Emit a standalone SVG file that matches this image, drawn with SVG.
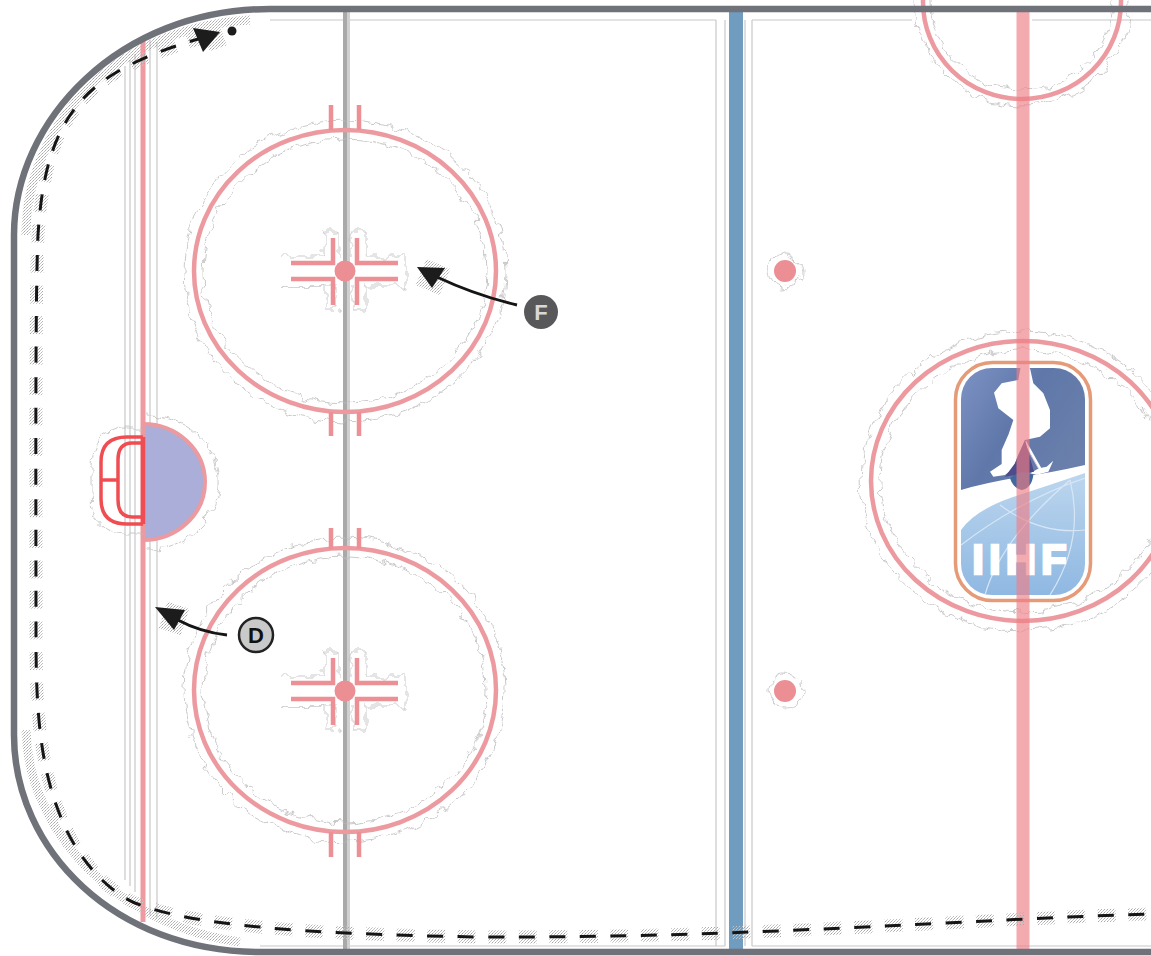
<svg xmlns="http://www.w3.org/2000/svg" xmlns:xlink="http://www.w3.org/1999/xlink" width="1151" height="956" viewBox="0 0 1151 956">
<style>
.thin{fill:none;stroke:#c8c8c8;stroke-width:1.2}
.halo{fill:none;stroke:#bdbdbd;stroke-width:.8;filter:url(#wobble)}
.red{fill:none;stroke:#ec9a9f;stroke-width:4.5}
.hash{fill:none;stroke:#ec9096;stroke-width:4.5}
.spot{fill:#ec8f95}
.goal{fill:none;stroke:#ef4d52;stroke-width:3.5}
.arrow{fill:none;stroke:#151515;stroke-width:3}
.head{fill:#1c1c1c}
.stip{fill:none;stroke:url(#stipple)}
.lbl{font-family:"Liberation Sans",Arial,sans-serif;font-weight:700;text-anchor:middle}
</style>
<defs>
<pattern id="stipple" width="3" height="3" patternUnits="userSpaceOnUse"><rect width="1" height="1" fill="#a8a8a8"/><rect x="2" y="1" width="1" height="1" fill="#bcbcbc"/><rect x="1" y="2" width="1" height="1" fill="#c8c8c8"/></pattern>
<filter id="wobble" x="-15%" y="-15%" width="130%" height="130%"><feTurbulence type="fractalNoise" baseFrequency="0.09" numOctaves="2" seed="4"/><feDisplacementMap in="SourceGraphic" scale="13" xChannelSelector="R" yChannelSelector="G"/></filter>
<linearGradient id="sky" x1="0" y1="0" x2="1" y2="0.6"><stop offset="0" stop-color="#7d92c4"/><stop offset="0.5" stop-color="#5f78a9"/><stop offset="1" stop-color="#6a7fab"/></linearGradient>
<linearGradient id="ice" x1="0" y1="0" x2="0" y2="1"><stop offset="0" stop-color="#bcd6ee"/><stop offset="1" stop-color="#8fb8e2"/></linearGradient>
<clipPath id="logoClip"><rect x="961" y="368" width="124" height="227" rx="31"/></clipPath>
<g id="dot-hash">
<path class="halo" d="M284 256H324V232H338V256M352 256V232H366V256H405V286H366V310H352V286M338 286V310H324V286H284Z"/>
<path class="hash" d="M291 263H333V238M291 279H333V305M398 263H357V238M398 279H357V305"/>
<circle class="spot" cx="345" cy="271" r="10.500"/>
</g>
</defs>
<rect width="1151" height="956" fill="#fff"/>

<g id="rink-guides">
<path class="thin" d="M125 66V880M130 60V886M135 54V892M150 40V915M157 42V918"/>
<path class="thin" d="M716 20V946M725 20V946M745 20V946M752 20V946"/>
<path class="thin" d="M270 20H716M752 20H912M1032 20H1151M260 946H725M752 946H1151"/>
<path class="stip" stroke-width="9" d="M26 235C26 130 110 28 250 20M26 730C28 830 115 925 240 942"/>
</g>

<g id="blue-line"><rect x="729" y="10" width="14" height="942" fill="#6f9cbf"/></g>
<g id="mid-line"><rect x="343" y="10" width="4" height="942" fill="#a9a9a9"/><rect x="347" y="10" width="3" height="942" fill="#d0d0d0"/></g>
<g id="goal-line"><rect x="140.500" y="38" width="5" height="884" fill="#ee9aa0"/></g>

<g id="circle-top-left">
<ellipse class="halo" cx="345" cy="271" rx="161" ry="151"/>
<ellipse class="halo" cx="345" cy="271" rx="142" ry="132"/>
<ellipse class="red" cx="345" cy="271" rx="151" ry="141"/>
<path class="hash" d="M331 105V130M359 105V130M331 412V436M359 412V436"/>
<use xlink:href="#dot-hash"/>
</g>
<g id="circle-bottom-left">
<ellipse class="halo" cx="345" cy="690" rx="161" ry="152"/>
<ellipse class="halo" cx="345" cy="690" rx="142" ry="133"/>
<ellipse class="red" cx="345" cy="690" rx="151" ry="142"/>
<path class="hash" d="M331 528V549M359 528V549M331 832V857M359 832V857"/>
<use xlink:href="#dot-hash" y="420"/>
</g>
<g id="spot-top"><circle class="halo" cx="785" cy="271" r="17"/><circle class="spot" cx="785" cy="271" r="11"/></g>
<g id="spot-bottom"><circle class="halo" cx="785" cy="691" r="17"/><circle class="spot" cx="785" cy="691" r="11"/></g>

<g id="crease">
<path class="halo" d="M146 414A70 66 0 0 1 146 550"/>
<path d="M143 424A62 58 0 0 1 143 540Z" fill="#aaaed8" stroke="#ec9a9f" stroke-width="4"/>
</g>
<g id="goal">
<path class="halo" d="M143 428H122Q92 432 92 465V495Q92 530 122 533H143"/>
<path class="goal" d="M143 437H127Q101 437 101 462V499Q101 524 127 524H143"/>
<path class="goal" d="M143 443H132Q118 443 118 460V500Q118 517 132 517H143"/>
<path class="goal" d="M101 480H118"/>
<path d="M143 437V524" stroke="#ef4d52" stroke-width="4.500" fill="none"/>
</g>

<g id="top-circle">
<ellipse class="halo" cx="1022" cy="2" rx="107" ry="104"/>
<ellipse class="halo" cx="1022" cy="2" rx="91" ry="88"/>
<ellipse class="red" cx="1022" cy="2" rx="99" ry="97" stroke="#eca6aa" stroke-width="5.500"/>
</g>
<g id="center-circle">
<ellipse class="halo" cx="1023" cy="481" rx="162" ry="150"/>
<ellipse class="halo" cx="1023" cy="481" rx="143" ry="131"/>
<ellipse class="red" cx="1023" cy="481" rx="152" ry="140" stroke="#eca6aa"/>
</g>

<g id="iihf-logo">
<rect x="955.500" y="362.500" width="135" height="238" rx="37" fill="#fff" stroke="#e59a78" stroke-width="3.500"/>
<g clip-path="url(#logoClip)">
<rect x="961" y="368" width="124" height="227" fill="#fff"/>
<path d="M961 368H1085V465Q1050 473 1020 477Q985 483 961 490Z" fill="url(#sky)"/>
<path d="M961 530Q975 510 1013 497Q1050 485 1085 473V595H961Z" fill="url(#ice)"/>
<g transform="translate(930 340) scale(.33333)">
<path d="M272 80L265 120L215 130L192 158L205 205L250 240L236 282L215 330L215 372L180 395L190 410L225 405L250 385L262 350L285 300L330 290L360 265L360 210L340 160L310 130L300 85Z" fill="#fff"/>
<path d="M285 305L330 385" stroke="#fff" stroke-width="8" fill="none"/>
<path d="M327 385L350 380L370 362L355 395L320 404L300 400Z" fill="#fff"/>
<path d="M285 300L255 370L225 410L312 395Z" fill="#4f4a8a"/>
<path d="M240 415Q270 385 310 405Q305 445 275 450Q250 445 240 415Z" fill="#41689f"/>
<path d="M300 340L325 385" stroke="#d8c8d8" stroke-width="3" fill="none"/>
</g>
<path d="M985 595Q1000 540 1070 480M961 545Q1020 500 1085 478M1000 505Q1040 535 1085 530M1070 480Q1085 540 1050 595" fill="none" stroke="#d6e6f5" stroke-width="1.200"/>
</g>
<text class="lbl" x="1022" y="574" font-size="42" letter-spacing="5" fill="#fff" stroke="#fff" stroke-width="2.500">IIHF</text>
</g>
<g id="center-line"><rect x="1016.500" y="10" width="13" height="942" fill="#ee7e86" opacity=".65"/></g>

<g id="boards">
<path d="M1151 9H270C120 9 14 120 14 235V735C14 850 115 952 260 952H1151" fill="none" stroke="#6f7278" stroke-width="6.500"/>
</g>

<g id="connectors">
<path class="stip" stroke-width="13" stroke-dasharray="18 12.500" d="M205 37C160 50 110 68 82 100C55 130 42 170 38 235C35 300 36 500 36 640C36 720 42 770 60 815C75 855 105 890 135 903C190 925 300 934 480 937C750 938 950 920 1151 914"/>
<path class="stip" stroke-width="28" d="M205 38L222 32M421 272L445 282M163 615L185 622"/>
<path class="arrow" stroke-dasharray="16 14.500" d="M205 37C160 50 110 68 82 100C55 130 42 170 38 235C35 300 36 500 36 640C36 720 42 770 60 815C75 855 105 890 135 903C190 925 300 934 480 937C750 938 950 920 1151 914"/>
<path class="head" d="M220 32L193 28L203 52Z"/>
<circle cx="232" cy="31" r="4.500" fill="#1c1c1c"/>
<path class="arrow" d="M517 305Q475 295 437 277"/>
<path class="head" d="M417 267L445 268L432 288Z"/>
<path class="arrow" d="M227 635Q200 632 178 620"/>
<path class="head" d="M155 607L185 610L174 630Z"/>
</g>

<g id="label-f">
<circle cx="541" cy="312" r="17" fill="#58585a"/>
<text class="lbl" x="541" y="320" font-size="22" fill="#d8d8d8">F</text>
</g>
<g id="label-d">
<circle cx="256" cy="635" r="17" fill="#c9c9c9" stroke="#222" stroke-width="2.500"/>
<text class="lbl" x="256" y="643" font-size="22" fill="#111">D</text>
</g>
</svg>
